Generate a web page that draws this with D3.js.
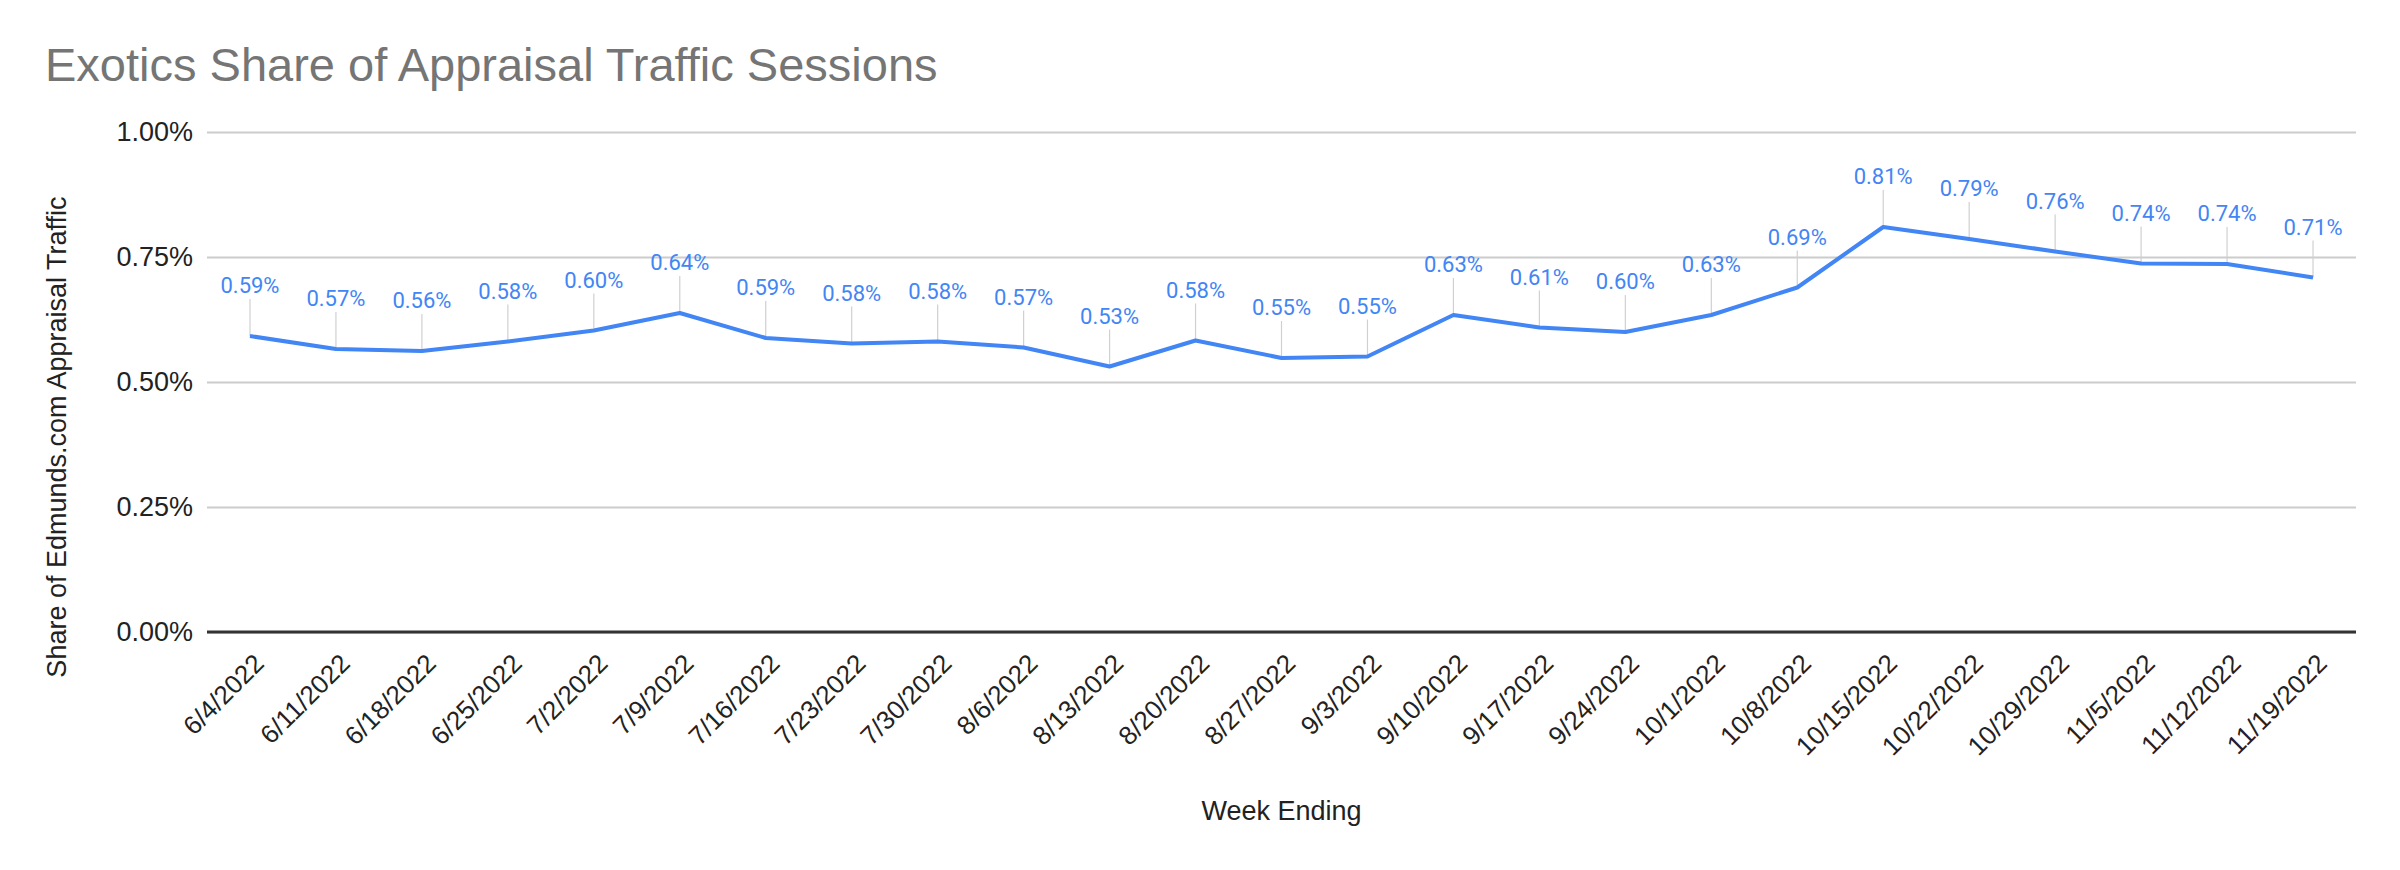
<!DOCTYPE html>
<html>
<head>
<meta charset="utf-8">
<script src="https://cdn.jsdelivr.net/npm/d3@7"></script>
<style>
  html, body { margin: 0; padding: 0; background: #fff; }
  svg { display: block; }
</style>
</head>
<body>
<svg id="chart" width="2400" height="870"></svg>
<script>
const weeks = ["6/4/2022","6/11/2022","6/18/2022","6/25/2022","7/2/2022","7/9/2022","7/16/2022","7/23/2022","7/30/2022","8/6/2022","8/13/2022","8/20/2022","8/27/2022","9/3/2022","9/10/2022","9/17/2022","9/24/2022","10/1/2022","10/8/2022","10/15/2022","10/22/2022","10/29/2022","11/5/2022","11/12/2022","11/19/2022"];
// share of appraisal traffic, in percent
const shares = [0.592,0.566,0.562,0.581,0.603,0.638,0.588,0.577,0.581,0.569,0.531,0.583,0.548,0.551,0.634,0.609,0.600,0.634,0.689,0.810,0.786,0.761,0.737,0.736,0.709];
const yTicks = [0, 0.25, 0.5, 0.75, 1.0];
const titleText = "Exotics Share of Appraisal Traffic Sessions";
const yTitle = "Share of Edmunds.com Appraisal Traffic";
const xTitle = "Week Ending";

(function () {
const svg = d3.select("#chart");
const pL = 207, pR = 2356, pT = 132, pB = 632;

const x = d3.scalePoint().domain(weeks).range([pL, pR]).padding(0.5);
const y = d3.scaleLinear().domain([0, 1]).range([pB, pT]);
const pct = v => v.toFixed(2) + "%";

svg.append("rect").attr("width", 2400).attr("height", 870).attr("fill", "#fff");

// title
svg.append("text")
  .attr("x", 45).attr("y", 81)
  .attr("font-family", "Liberation Sans, Arial, sans-serif")
  .attr("font-size", 47)
  .attr("fill", "#757575")
  .text(titleText);

// gridlines + y labels
const yAxis = d3.axisLeft(y).tickValues(yTicks).tickFormat(pct).tickSize(-(pR - pL)).tickPadding(14);
const gy = svg.append("g").attr("transform", `translate(${pL},0)`).call(yAxis);
gy.select(".domain").remove();
gy.selectAll(".tick line").attr("stroke", "#cccccc").attr("stroke-width", 2);
gy.selectAll(".tick text")
  .attr("font-family", "Liberation Sans, Arial, sans-serif")
  .attr("font-size", 27).attr("fill", "#222");

// x axis baseline + labels
const xAxis = d3.axisBottom(x).tickSize(0).tickPadding(0);
const gx = svg.append("g").attr("transform", `translate(0,${pB})`).call(xAxis);
gx.select(".domain").attr("stroke", "#333").attr("stroke-width", 3)
  .attr("d", `M${pL},0H${pR}`);
gx.selectAll(".tick text")
  .attr("font-family", "Liberation Sans, Arial, sans-serif")
  .attr("font-size", 26).attr("fill", "#222")
  .attr("text-anchor", "end")
  .attr("dy", null).attr("y", null)
  .attr("transform", "translate(15,33) rotate(-45)");

// axis titles
svg.append("text")
  .attr("transform", "translate(66,437) rotate(-90)")
  .attr("text-anchor", "middle")
  .attr("font-family", "Liberation Sans, Arial, sans-serif")
  .attr("font-size", 27).attr("fill", "#222")
  .text(yTitle);

svg.append("text")
  .attr("x", (pL + pR) / 2).attr("y", 820)
  .attr("text-anchor", "middle")
  .attr("font-family", "Liberation Sans, Arial, sans-serif")
  .attr("font-size", 27).attr("fill", "#222")
  .text(xTitle);

// leader lines
svg.append("g").selectAll("line").data(shares).join("line")
  .attr("x1", (d, i) => x(weeks[i])).attr("x2", (d, i) => x(weeks[i]))
  .attr("y1", d => y(d) - 37).attr("y2", d => y(d))
  .attr("stroke", "#d0d0d0").attr("stroke-width", 1.2);

// line
svg.append("path")
  .datum(shares)
  .attr("fill", "none")
  .attr("stroke", "#4285f4")
  .attr("stroke-width", 4)
  .attr("stroke-linejoin", "round")
  .attr("d", d3.line().x((d, i) => x(weeks[i])).y(d => y(d)));

// data labels
svg.append("g").selectAll("text").data(shares).join("text")
  .attr("x", (d, i) => x(weeks[i])).attr("y", d => y(d) - 43)
  .attr("text-anchor", "middle")
  .attr("font-family", "Roboto, sans-serif")
  .attr("font-size", 22).attr("fill", "#4285f4")
  .text(d => pct(d));
})();
</script>
</body>
</html>
